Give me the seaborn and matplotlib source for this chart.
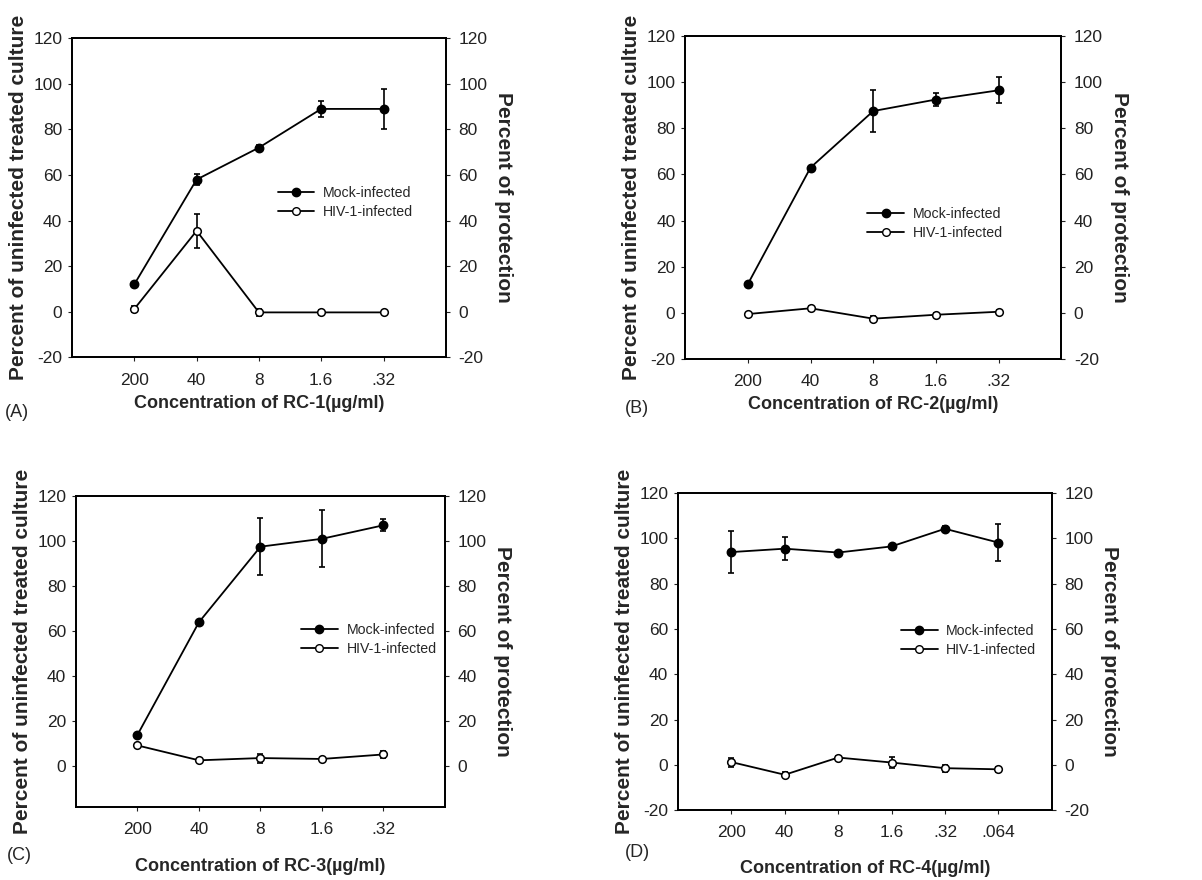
import matplotlib
matplotlib.use("Agg")
import seaborn as sns
import matplotlib.pyplot as plt
from matplotlib.lines import Line2D

conc_rc123 = ["200", "40", "8", "1.6", ".32"]
conc_rc4 = ["200", "40", "8", "1.6", ".32", ".064"]

# RC-1
mock_rc1 = [12, 58, 72, 89, 89]
mock_rc1_err = [1.0, 2.3, 1.0, 3.6, 8.7]
hiv_rc1 = [1.2, 35.5, -0.3, -0.3, -0.3]
hiv_rc1_err = [1.5, 7.5, 1.5, 1.0, 0.5]
# RC-2
mock_rc2 = [12.5, 63, 87.5, 92.5, 96.5]
mock_rc2_err = [0.8, 0.8, 9.0, 2.9, 5.6]
hiv_rc2 = [-0.5, 2, -2.5, -0.8, 0.5]
hiv_rc2_err = [0.5, 1.0, 1.0, 0.6, 0.6]
# RC-3
mock_rc3 = [14, 64, 97.5, 101, 107]
mock_rc3_err = [1.0, 0.8, 12.7, 12.7, 2.7]
hiv_rc3 = [9.3, 2.7, 3.7, 3.3, 5.3]
hiv_rc3_err = [0.8, 0.6, 2.0, 0.6, 1.5]
# RC-4
mock_rc4 = [94, 95.5, 93.8, 96.5, 104.3, 98.2]
mock_rc4_err = [9.3, 5.0, 0.8, 1.0, 1.2, 8.0]
hiv_rc4 = [1.2, -4.4, 3.2, 1.0, -1.5, -2.0]
hiv_rc4_err = [2.0, 1.2, 0.6, 2.4, 1.5, 1.0]

sns.set_style("ticks")
plt.rcParams['font.family'] = ['Liberation Sans', 'DejaVu Sans']
plt.rcParams['axes.unicode_minus'] = False

fig = plt.figure(figsize=(12.02, 8.8), dpi=100)

panels = [
    dict(rect=[0.0599, 0.594, 0.311, 0.3625], letter="(A)", letter_xy=(0.004, 0.531), name="RC-1",
         conc=conc_rc123, mock=mock_rc1, mock_err=mock_rc1_err, hiv=hiv_rc1, hiv_err=hiv_rc1_err,
         ylim=(-20, 120), yticks=range(-20, 121, 20), leg=(0.55, 0.486), xpad=5),
    dict(rect=[0.570, 0.592, 0.313, 0.367], letter="(B)", letter_xy=(0.52, 0.536), name="RC-2",
         conc=conc_rc123, mock=mock_rc2, mock_err=mock_rc2_err, hiv=hiv_rc2, hiv_err=hiv_rc2_err,
         ylim=(-20, 120), yticks=range(-20, 121, 20), leg=(0.484, 0.42), xpad=5),
    dict(rect=[0.0632, 0.083, 0.307, 0.3534], letter="(C)", letter_xy=(0.006, 0.028), name="RC-3",
         conc=conc_rc123, mock=mock_rc3, mock_err=mock_rc3_err, hiv=hiv_rc3, hiv_err=hiv_rc3_err,
         ylim=(-18, 120), yticks=range(0, 121, 20), leg=(0.61, 0.54), xpad=15),
    dict(rect=[0.564, 0.0795, 0.311, 0.360], letter="(D)", letter_xy=(0.52, 0.031), name="RC-4",
         conc=conc_rc4, mock=mock_rc4, mock_err=mock_rc4_err, hiv=hiv_rc4, hiv_err=hiv_rc4_err,
         ylim=(-20, 120), yticks=range(-20, 121, 20), leg=(0.596, 0.536), xpad=14),
]

for p in panels:
    ax = fig.add_axes(p["rect"])
    xs = list(range(len(p["conc"])))

    for vals, errs, face in [(p["mock"], p["mock_err"], "black"), (p["hiv"], p["hiv_err"], "white")]:
        ax.errorbar(xs, vals, yerr=errs, fmt="none", ecolor="black", elinewidth=1.2,
                    capsize=2.5, capthick=1.2, zorder=2)
        sns.lineplot(x=xs, y=vals, ax=ax, color="black", linewidth=1.3, marker="o",
                     markersize=6 if face == "black" else 5.5, markerfacecolor=face,
                     markeredgecolor="black", markeredgewidth=1.1, zorder=3)

    ax.set_xlim(-1, len(xs))
    ax.set_xticks(xs)
    ax.set_xticklabels(p["conc"])
    ax.set_ylim(*p["ylim"])
    ax.set_yticks(list(p["yticks"]))
    ax.tick_params(axis="x", direction="out", length=3, pad=8, labelsize=12.5, colors="#222222")
    ax.tick_params(axis="y", direction="out", length=3, pad=4, labelsize=12.5, colors="#222222")
    for s in ax.spines.values():
        s.set_linewidth(1.3)
        s.set_color("black")
    ax.set_xlabel(f"Concentration of {p['name']}(\u00b5g/ml)", fontsize=13, fontweight="bold",
                  labelpad=p["xpad"])
    ax.set_ylabel("Percent of uninfected treated culture", fontsize=15, fontweight="bold", labelpad=4)

    ax2 = ax.twinx()
    ax2.set_ylim(*p["ylim"])
    ax2.set_yticks(list(p["yticks"]))
    ax2.tick_params(axis="y", direction="out", length=3, pad=6, labelsize=12.5, colors="#222222")
    for s in ax2.spines.values():
        s.set_linewidth(1.3)
        s.set_color("black")
    ax2.set_ylabel("Percent of protection", fontsize=15, fontweight="bold", rotation=270,
                   va="bottom", labelpad=5)

    handles = [
        Line2D([], [], color="black", linewidth=1.3, marker="o", markersize=6,
               markerfacecolor="black", markeredgecolor="black"),
        Line2D([], [], color="black", linewidth=1.3, marker="o", markersize=5.5,
               markerfacecolor="white", markeredgecolor="black"),
    ]
    ax.legend(handles, ["Mock-infected", "HIV-1-infected"], loc="center left",
              bbox_to_anchor=p["leg"], frameon=False, fontsize=10.2, handlelength=2.6,
              handletextpad=0.6, borderpad=0, borderaxespad=0, labelspacing=0.35)

    fig.text(p["letter_xy"][0], p["letter_xy"][1], p["letter"], fontsize=13, va="center", ha="left")

fig.savefig("out.png", dpi=100)
